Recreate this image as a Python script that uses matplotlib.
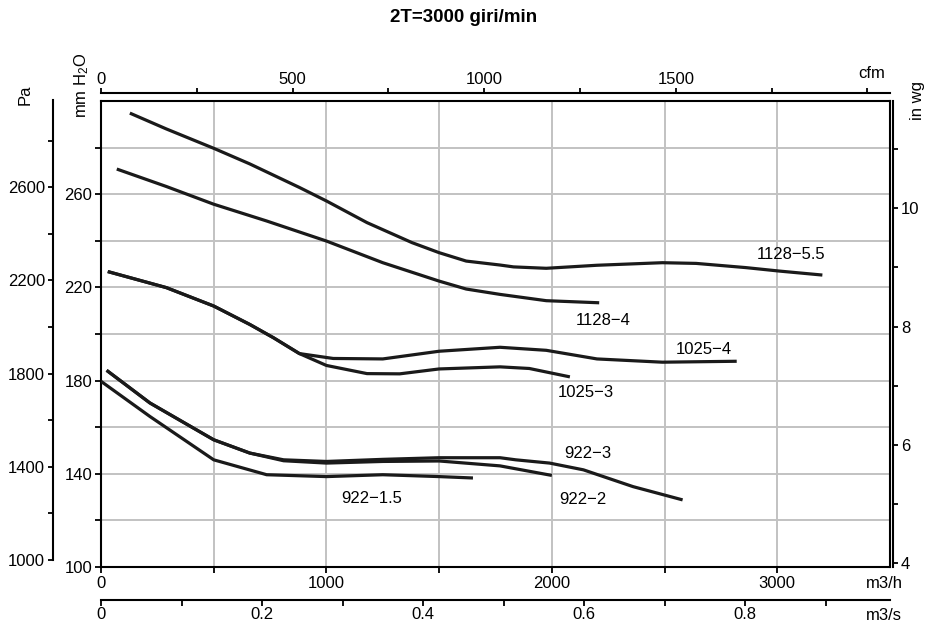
import matplotlib
matplotlib.use('Agg')
import matplotlib.pyplot as plt
import numpy as np
from matplotlib.ticker import FixedLocator, FixedFormatter

plt.rcParams['font.family'] = ['Liberation Sans', 'DejaVu Sans']
plt.rcParams['mathtext.default'] = 'regular'

# ---- data: airflow (m3/h) vs static pressure (mm H2O) ----
q_1128_55 = [128, 290, 500, 660, 880, 1000, 1180, 1380, 1500, 1620, 1770, 1830, 1975, 2200, 2490, 2640, 2860, 3010, 3200]
p_1128_55 = [294.8, 288.0, 279.7, 273.0, 262.9, 257.1, 247.8, 239.2, 234.9, 231.3, 229.6, 228.8, 228.2, 229.5, 230.6, 230.3, 228.5, 227.0, 225.3]

q_1128_4 = [70, 290, 500, 735, 1000, 1250, 1500, 1620, 1770, 1975, 2210]
p_1128_4 = [270.8, 263.3, 255.7, 248.5, 239.9, 230.6, 222.7, 219.3, 217.0, 214.3, 213.4]

q_1025_4 = [30, 290, 500, 660, 765, 880, 1030, 1250, 1500, 1770, 1975, 2200, 2490, 2820]
p_1025_4 = [226.8, 219.9, 212.0, 204.1, 198.4, 191.6, 189.5, 189.3, 192.6, 194.3, 193.0, 189.3, 187.9, 188.3]

q_1025_3 = [30, 290, 500, 660, 765, 880, 1000, 1180, 1325, 1500, 1770, 1900, 2080]
p_1025_3 = [226.8, 219.9, 212.0, 204.1, 198.4, 191.6, 186.5, 183.0, 182.9, 185.0, 185.9, 185.2, 181.6]

q_922_3 = [25, 217, 500, 660, 810, 1000, 1250, 1500, 1770, 1840, 1990, 2140, 2360, 2580]
p_922_3 = [184.4, 170.4, 154.6, 148.9, 146.0, 145.3, 146.2, 146.9, 146.9, 146.0, 144.6, 141.7, 134.5, 128.8]

q_922_2 = [25, 217, 500, 660, 810, 1000, 1250, 1500, 1770, 2000]
p_922_2 = [184.4, 170.4, 154.6, 148.9, 145.6, 144.6, 145.3, 145.5, 143.4, 139.3]

q_922_15 = [0, 217, 500, 735, 1000, 1250, 1500, 1650]
p_922_15 = [179.7, 164.6, 146.0, 139.6, 138.8, 139.6, 138.8, 138.2]

curve_names = ['1128\u22125.5', '1128\u22124', '1025\u22124', '1025\u22123', '922\u22123', '922\u22122', '922\u22121.5']
curves_q = [q_1128_55, q_1128_4, q_1025_4, q_1025_3, q_922_3, q_922_2, q_922_15]
curves_p = [p_1128_55, p_1128_4, p_1025_4, p_1025_3, p_922_3, p_922_2, p_922_15]
label_q = [3060, 2226, 2676, 2149, 2159, 2137, 1199]
label_p = [234.2, 205.6, 193.3, 174.9, 148.5, 128.8, 129.5]

# axis ticks
mmh2o_ticks = [100, 120, 140, 160, 180, 200, 220, 240, 260, 280]
mmh2o_labels = ['100', '', '140', '', '180', '', '220', '', '260', '']
pa_ticks = [1000, 1200, 1400, 1600, 1800, 2000, 2200, 2400, 2600, 2800]
pa_labels = ['1000', '', '1400', '', '1800', '', '2200', '', '2600', '']
m3h_ticks = [0, 500, 1000, 1500, 2000, 2500, 3000]
m3h_labels = ['0', '', '1000', '', '2000', '', '3000']
cfm_ticks = [0, 250, 500, 750, 1000, 1250, 1500, 1750, 2000]
cfm_labels = ['0', '', '500', '', '1000', '', '1500', '', '']
inwg_ticks = [4, 5, 6, 7, 8, 9, 10, 11]
inwg_labels = ['4', '', '6', '', '8', '', '10', '']
m3s_ticks = [0, 0.1, 0.2, 0.3, 0.4, 0.5, 0.6, 0.7, 0.8, 0.9]
m3s_labels = ['0', '', '0.2', '', '0.4', '', '0.6', '', '0.8', '']

W, H = 928, 625
fig = plt.figure(figsize=(W / 100, H / 100), dpi=100)
L, R, T, B = 101, 890, 101, 567
ax = fig.add_axes([L / W, 1 - B / H, (R - L) / W, (B - T) / H])
ax.set_xlim(0, 3500)
ax.set_ylim(100, 300)

FS = 12
SPW = 1.5
PT = 0.72  # points per pixel

ax.xaxis.set_major_locator(FixedLocator(m3h_ticks))
ax.xaxis.set_major_formatter(FixedFormatter(m3h_labels))
ax.yaxis.set_major_locator(FixedLocator(mmh2o_ticks))
ax.yaxis.set_major_formatter(FixedFormatter(mmh2o_labels))
ax.grid(True, color='#c2c2c2', lw=1.4, zorder=0)
ax.set_axisbelow(True)
ax.tick_params(direction='out', length=6 * PT, width=1.3, labelsize=FS, pad=2)
for s in ax.spines.values():
    s.set_linewidth(SPW)

for q, p in zip(curves_q, curves_p):
    ax.plot(q, p, color='#1a1a1a', lw=2.3, solid_capstyle='butt', zorder=3)
for name, xq, yp in zip(curve_names, label_q, label_p):
    ax.text(xq, yp, name, fontsize=FS, ha='center', va='center', zorder=4)

# Pa axis (left, outward)
axp = ax.twinx()
axp.set_ylim(970, 2970)
axp.yaxis.set_ticks_position('left')
axp.spines['left'].set_position(('outward', 48 * PT))
axp.spines['left'].set_linewidth(SPW)
axp.spines['left'].set_bounds(1000, 2975)
for k in ['right', 'top', 'bottom']:
    axp.spines[k].set_visible(False)
axp.yaxis.set_major_locator(FixedLocator(pa_ticks))
axp.yaxis.set_major_formatter(FixedFormatter(pa_labels))
axp.tick_params(axis='y', direction='out', length=5 * PT, width=1.3, labelsize=FS, pad=2)

# in wg axis (right)
axw = ax.twinx()
axw.set_ylim(100 / 25.4, 300 / 25.4)
axw.spines['right'].set_position(('outward', 3 * PT))
axw.spines['right'].set_linewidth(SPW)
for k in ['left', 'top', 'bottom']:
    axw.spines[k].set_visible(False)
axw.yaxis.set_major_locator(FixedLocator(inwg_ticks))
axw.yaxis.set_major_formatter(FixedFormatter(inwg_labels))
axw.tick_params(axis='y', direction='out', length=5 * PT, width=1.3, labelsize=FS, pad=2)

# cfm axis (top)
axc = ax.twiny()
axc.set_xlim(0, 3500 / 1.70)
axc.spines['top'].set_position(('outward', 8 * PT))
axc.spines['top'].set_linewidth(SPW)
for k in ['left', 'right', 'bottom']:
    axc.spines[k].set_visible(False)
axc.xaxis.set_major_locator(FixedLocator(cfm_ticks))
axc.xaxis.set_major_formatter(FixedFormatter(cfm_labels))
axc.tick_params(axis='x', direction='out', length=5 * PT, width=1.3, labelsize=FS, pad=1)

# m3/s axis (bottom, outward)
axs = ax.twiny()
axs.set_xlim(0, 0.98)
axs.xaxis.set_ticks_position('bottom')
axs.xaxis.set_label_position('bottom')
axs.spines['bottom'].set_position(('outward', 33 * PT))
axs.spines['bottom'].set_linewidth(SPW)
for k in ['left', 'right', 'top']:
    axs.spines[k].set_visible(False)
axs.xaxis.set_major_locator(FixedLocator(m3s_ticks))
axs.xaxis.set_major_formatter(FixedFormatter(m3s_labels))
axs.tick_params(axis='x', direction='out', length=6 * PT, width=1.3, labelsize=FS, pad=1)

# unit labels
def ftext(x, y, s, **kw):
    fig.text(x / W, 1 - y / H, s, fontsize=FS, ha='center', va='center', **kw)

ftext(25, 95, 'Pa', rotation=90)
ftext(82, 85, 'mm H$_2$O', rotation=90)
ftext(918, 100, 'in wg', rotation=90)
ftext(872, 73, 'cfm')
ftext(884, 583, 'm3/h')
ftext(884, 615, 'm3/s')
fig.text(464 / W, 1 - 18 / H, '2T=3000 giri/min', fontsize=13.5, fontweight='bold',
         ha='center', va='center')

fig.savefig('out.png', dpi=100)
